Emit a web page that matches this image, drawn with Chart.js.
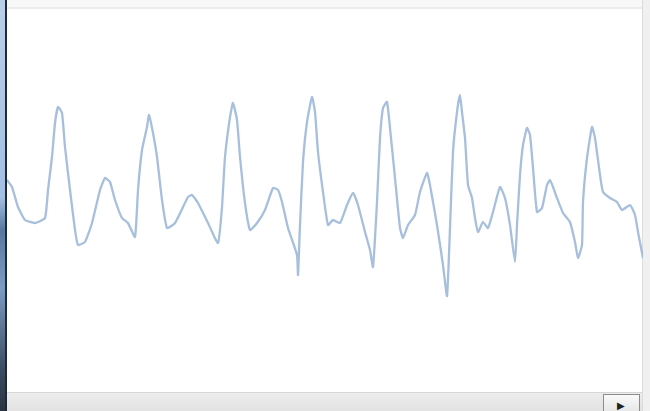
<!DOCTYPE html>
<html lang="en">
<head>
    <meta charset="UTF-8">
    <title>Signal</title>
    <style>
        body {
            margin: 0;
            width: 650px;
            height: 411px;
            overflow: hidden;
            background: #ffffff;
            font-family: "DejaVu Sans", sans-serif;
            position: relative;
        }
        .left-edge {
            position: absolute; left: 0; top: 0; width: 5px; height: 411px;
            background: linear-gradient(#b9cfe9, #a3bfe2 48%, #5878a0 56%, #7d9cc4 70%, #3a4c62 90%, #2a3440);
        }
        .left-line {
            position: absolute; left: 5px; top: 0; width: 2px; height: 411px;
            background: #1f2a36;
        }
        .right-edge {
            position: absolute; left: 642px; top: 0; width: 8px; height: 411px;
            background: #f0f0f0; border-left: 1px solid #dcdcdc;
        }
        .top-band {
            position: absolute; left: 7px; top: 0; width: 635px; height: 7px;
            background: #f8f8f8; border-bottom: 2px solid #ececec;
        }
        .bottom-bar {
            position: absolute; left: 7px; top: 392px; width: 635px; height: 19px;
            background: linear-gradient(#ececec, #e2e2e2);
            border-top: 1px solid #d6d6d6;
        }
        .btn {
            position: absolute; left: 603px; top: 394px; width: 35px; height: 17px;
            border: 1px solid #8c8c8c; border-bottom: none;
            background: linear-gradient(#fafafa, #e6e6e6);
        }
        .btn span {
            position: absolute; left: 13px; top: 5px;
            font-size: 10px; color: #222;
        }
        .chart-container {
            position: absolute; left: 7px; top: 10px; width: 636px; height: 382px;
        }
    </style>
</head>
<body>
    <div class="left-edge"></div>
    <div class="left-line"></div>
    <div class="right-edge"></div>
    <div class="top-band"></div>
    <div class="chart-container">
        <canvas id="signalChart"></canvas>
    </div>
    <div class="bottom-bar"></div>
    <div class="btn"><span>&#9654;</span></div>

    <script src="https://cdn.jsdelivr.net/npm/chart.js"></script>
    <script>
        // sample time (ms from left edge) and signal amplitude
        const times = [0, 5, 11, 18, 28, 38, 41, 45, 48, 51,
            55, 58, 63, 68, 71, 78, 85, 93, 98, 103,
            108, 115, 121, 128, 131, 135, 140, 142, 146, 150,
            155, 160, 168, 181, 185, 191, 201, 211, 215, 218,
            223, 226, 230, 233, 238, 243, 250, 258, 266, 271,
            275, 281, 290, 291, 293, 296, 300, 305, 308, 311,
            316, 321, 326, 333, 340, 346, 351, 358, 363, 366,
            370, 373, 376, 380, 383, 388, 393, 396, 401, 408,
            413, 420, 423, 430, 436, 440, 443, 446, 450, 453,
            455, 458, 461, 465, 468, 471, 476, 481, 486, 493,
            498, 503, 508, 510, 513, 516, 520, 523, 526, 530,
            535, 540, 543, 546, 550, 556, 563, 568, 571, 575,
            576, 580, 585, 588, 593, 596, 603, 610, 615, 623,
            628, 631, 636];
        const amplitude = [40, 33, 13, 0, -3, 2, 30, 63, 97, 113,
            107, 73, 30, -10, -25, -22, -3, 30, 42, 38,
            20, 2, -3, -17, 30, 70, 93, 105, 87, 63,
            20, -8, -3, 23, 25, 17, -3, -23, 13, 63,
            103, 117, 100, 63, 17, -10, -3, 10, 32, 30,
            18, -8, -35, -55, -5, 58, 98, 123, 108, 68,
            28, -5, 0, -3, 15, 27, 15, -12, -30, -47,
            18, 82, 112, 118, 92, 42, -8, -18, -5, 5,
            28, 47, 35, -5, -45, -76, -8, 68, 108, 125,
            108, 82, 35, 22, 2, -12, -2, -8, 8, 33,
            22, -5, -42, -5, 45, 75, 92, 85, 52, 8,
            12, 35, 40, 33, 22, 7, -2, -22, -38, -25,
            18, 62, 93, 82, 45, 28, 22, 18, 10, 15,
            5, -12, -38];

        const points = times.map((t, i) => ({ x: t, y: amplitude[i] }));

        new Chart(document.getElementById('signalChart'), {
            type: 'line',
            data: {
                datasets: [{
                    data: points,
                    borderColor: 'rgba(150, 180, 214, 0.85)',
                    borderWidth: 2.3,
                    pointRadius: 0,
                    tension: 0.15,
                    fill: false
                }]
            },
            options: {
                responsive: true,
                maintainAspectRatio: false,
                animation: false,
                layout: { padding: 0 },
                plugins: {
                    legend: { display: false },
                    tooltip: { enabled: false }
                },
                scales: {
                    x: { type: 'linear', min: 0, max: 636, display: false },
                    y: { min: -172, max: 210, display: false }
                }
            }
        });
    </script>
</body>
</html>
